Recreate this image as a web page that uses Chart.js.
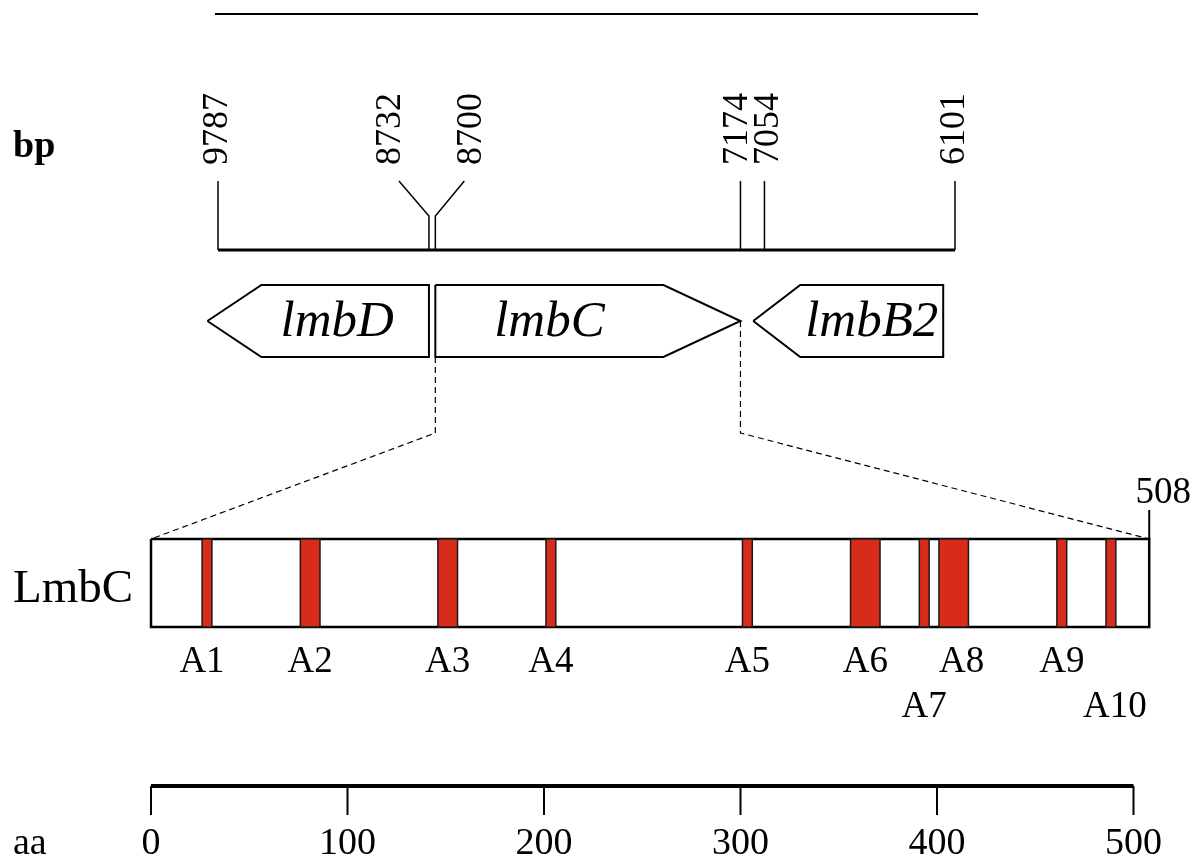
<!DOCTYPE html>
<html>
<head>
<meta charset="utf-8">
<title>LmbC</title>
<script src="https://cdn.jsdelivr.net/npm/chart.js@4.4.1/dist/chart.umd.min.js"></script>
<style>
  html, body { margin: 0; padding: 0; background: #fff; }
  #wrap { width: 1191px; height: 861px; }
</style>
</head>
<body>
<div id="wrap"><canvas id="map" width="1191" height="861"></canvas></div>
<script>
// --- data ---
const bpTicks = [9787, 8732, 8700, 7174, 7054, 6101];
const geneNames = ['lmbD', 'lmbC', 'lmbB2'];
const geneLeft = [9840, 8700, 7110];   // bp at left end
const geneRight = [8732, 7174, 6160];  // bp at right end
const geneStrand = [-1, 1, -1];        // -1 points left, 1 points right
const proteinLength = 508;
const domainNames = ['A1', 'A2', 'A3', 'A4', 'A5', 'A6', 'A7', 'A8', 'A9', 'A10'];
const domainStart = [26, 76, 146, 201, 301, 356, 391, 401, 461, 486];
const domainEnd = [31, 86, 156, 206, 306, 371, 396, 416, 466, 491];
const aaTicks = [0, 100, 200, 300, 400, 500];

// --- layout (pixel rows, since the y scale runs 0..861 top to bottom) ---
const W = 1191, H = 861;
const AA_LEFT = 151, AA_RIGHT = 1133.5;     // where 0 and 500 aa sit
const BP_LEFT = 218, BP_RIGHT = 955;        // where 9787 and 6101 bp sit
const ROW = {
  rule: 14, bpText: 165, tickTop: 181, kink: 216, bpAxis: 250,
  geneTop: 285, geneMid: 321, geneBot: 357, knee: 433,
  endText: 493, endTick: 510, boxTop: 539, boxBot: 627,
  label1: 662, label2: 707, aaAxis: 786, aaTickEnd: 815, aaText: 844
};
const headBp = { lmbD: 270, lmbC: 385, lmbB2: 235 };
const nameShiftPx = { lmbD: -8, lmbC: 0, lmbB2: 0 };
const kinkShiftPx = { 8732: -30, 8700: 29 };
const labelShiftPx = { 8732: -38, 8700: 36, 7174: -3, 7054: 4 };
const domainLabelShiftPx = { A1: -5, A8: 8, A10: 4 };
const lowerLabels = ['A7', 'A10'];
const RED = '#d92b1a';
const SERIF = '"Liberation Serif", "Times New Roman", serif';

// bp scale bounds so the bp rule lands between BP_LEFT and BP_RIGHT
const areaW = AA_RIGHT - AA_LEFT;
const pxPerBp = (BP_RIGHT - BP_LEFT) / (bpTicks[0] - bpTicks[bpTicks.length - 1]);
const bpMax = bpTicks[0] + (BP_LEFT - AA_LEFT) / pxPerBp;
const bpMin = bpMax - areaW / pxPerBp;

const line = (pts, extra) => Object.assign({
  data: pts, showLine: true, pointRadius: 0, pointHoverRadius: 0, clip: false,
  borderColor: '#000', borderWidth: 1.5, fill: false, tension: 0, order: 5
}, extra);

const datasets = [];

// bp rule with its ticks
datasets.push(line([{ x: bpTicks[0], y: ROW.bpAxis }, { x: bpTicks[bpTicks.length - 1], y: ROW.bpAxis }],
  { xAxisID: 'xbp', borderWidth: 3 }));
bpTicks.forEach(v => {
  let pts;
  if (kinkShiftPx[v] !== undefined) {
    const off = -kinkShiftPx[v] / pxPerBp; // reversed axis
    pts = [{ x: v, y: ROW.bpAxis }, { x: v, y: ROW.kink }, { x: v + off, y: ROW.tickTop }];
  } else {
    pts = [{ x: v, y: ROW.bpAxis }, { x: v, y: ROW.tickTop }];
  }
  datasets.push(line(pts, { xAxisID: 'xbp' }));
});

// gene arrows
geneNames.forEach((g, i) => {
  const L = geneLeft[i], R = geneRight[i], hd = headBp[g];
  let pts;
  if (geneStrand[i] < 0) {
    const s = L - hd;
    pts = [[L, ROW.geneMid], [s, ROW.geneTop], [R, ROW.geneTop], [R, ROW.geneBot], [s, ROW.geneBot], [L, ROW.geneMid]];
  } else {
    const s = R + hd;
    pts = [[L, ROW.geneTop], [s, ROW.geneTop], [R, ROW.geneMid], [s, ROW.geneBot], [L, ROW.geneBot], [L, ROW.geneTop]];
  }
  datasets.push(line(pts.map(p => ({ x: p[0], y: p[1] })), { xAxisID: 'xbp', borderWidth: 2 }));
});

// protein box, its end tick and the conserved motifs
datasets.push(line([
  { x: 0, y: ROW.boxTop }, { x: proteinLength, y: ROW.boxTop },
  { x: proteinLength, y: ROW.boxBot }, { x: 0, y: ROW.boxBot }, { x: 0, y: ROW.boxTop }
], { xAxisID: 'x', borderWidth: 2.5, order: 4 }));
datasets.push(line([{ x: proteinLength, y: ROW.boxTop }, { x: proteinLength, y: ROW.endTick }],
  { xAxisID: 'x', borderWidth: 2 }));
domainNames.forEach((d, i) => {
  const a = domainStart[i], b = domainEnd[i];
  datasets.push(line([
    { x: a, y: ROW.boxTop }, { x: b, y: ROW.boxTop }, { x: b, y: ROW.boxBot },
    { x: a, y: ROW.boxBot }, { x: a, y: ROW.boxTop }
  ], { xAxisID: 'x', fill: 'shape', backgroundColor: RED, borderColor: '#1a1a1a', borderWidth: 1.5, order: 1 }));
});

// aa scale bar
datasets.push(line([{ x: aaTicks[0], y: ROW.aaAxis }, { x: aaTicks[aaTicks.length - 1], y: ROW.aaAxis }],
  { xAxisID: 'x', borderWidth: 4 }));
aaTicks.forEach(v => {
  datasets.push(line([{ x: v, y: ROW.aaAxis }, { x: v, y: ROW.aaTickEnd }], { xAxisID: 'x', borderWidth: 2 }));
});

function txt(ctx, s, x, y, font, align, base, rot) {
  ctx.save();
  ctx.translate(x, y);
  if (rot) ctx.rotate(rot);
  ctx.font = font;
  ctx.fillStyle = '#000';
  ctx.textAlign = align;
  ctx.textBaseline = base;
  ctx.fillText(s, 0, 0);
  ctx.restore();
}

const mapText = {
  id: 'mapText',
  beforeDatasetsDraw(chart) {
    const ctx = chart.ctx, xa = chart.scales.x, xb = chart.scales.xbp;
    ctx.save();
    // header rule
    ctx.strokeStyle = '#000';
    ctx.lineWidth = 2;
    ctx.beginPath();
    ctx.moveTo(215, ROW.rule);
    ctx.lineTo(978, ROW.rule);
    ctx.stroke();
    // dashed lines from the lmbC gene down to the protein box
    ctx.lineWidth = 1.2;
    ctx.setLineDash([6, 4]);
    const gi = geneNames.indexOf('lmbC');
    const lx = xb.getPixelForValue(geneLeft[gi]);
    const rx = xb.getPixelForValue(geneRight[gi]);
    ctx.beginPath();
    ctx.moveTo(lx, ROW.geneBot);
    ctx.lineTo(lx, ROW.knee);
    ctx.lineTo(xa.getPixelForValue(0), ROW.boxTop);
    ctx.moveTo(rx, ROW.geneMid);
    ctx.lineTo(rx, ROW.knee);
    ctx.lineTo(xa.getPixelForValue(proteinLength), ROW.boxTop);
    ctx.stroke();
    ctx.restore();
  },
  afterDatasetsDraw(chart) {
    const ctx = chart.ctx, xa = chart.scales.x, xb = chart.scales.xbp;
    txt(ctx, 'bp', 13, 157, 'bold 38px ' + SERIF, 'left', 'alphabetic');
    bpTicks.forEach(v => {
      const x = xb.getPixelForValue(v) + (labelShiftPx[v] || 0);
      txt(ctx, String(v), x, ROW.bpText, '36px ' + SERIF, 'left', 'middle', -Math.PI / 2);
    });
    geneNames.forEach((g, i) => {
      const hd = headBp[g];
      const a = geneStrand[i] < 0 ? geneLeft[i] - hd : geneLeft[i];
      const b = geneStrand[i] < 0 ? geneRight[i] : geneRight[i] + hd;
      const cx = (xb.getPixelForValue(a) + xb.getPixelForValue(b)) / 2 + nameShiftPx[g];
      txt(ctx, g, cx, ROW.geneMid + 2, 'italic 51px ' + SERIF, 'center', 'middle');
    });
    txt(ctx, 'LmbC', 13, 590, '47px ' + SERIF, 'left', 'middle');
    txt(ctx, String(proteinLength), xa.getPixelForValue(proteinLength) + 14, ROW.endText, '37px ' + SERIF, 'center', 'middle');
    domainNames.forEach((d, i) => {
      const cx = xa.getPixelForValue((domainStart[i] + domainEnd[i]) / 2) + (domainLabelShiftPx[d] || 0);
      const y = lowerLabels.includes(d) ? ROW.label2 : ROW.label1;
      txt(ctx, d, cx, y, '37px ' + SERIF, 'center', 'middle');
    });
    aaTicks.forEach(v => {
      txt(ctx, String(v), xa.getPixelForValue(v), ROW.aaText, '38px ' + SERIF, 'center', 'middle');
    });
    txt(ctx, 'aa', 13, ROW.aaText, '38px ' + SERIF, 'left', 'middle');
  }
};

new Chart(document.getElementById('map'), {
  type: 'scatter',
  data: { datasets },
  options: {
    responsive: false,
    devicePixelRatio: 1,
    animation: false,
    layout: { padding: { left: AA_LEFT, right: W - AA_RIGHT, top: 0, bottom: 0 } },
    plugins: { legend: { display: false }, tooltip: { enabled: false } },
    events: [],
    scales: {
      x: { type: 'linear', min: aaTicks[0], max: aaTicks[aaTicks.length - 1], display: false },
      xbp: { type: 'linear', reverse: true, min: bpMin, max: bpMax, display: false },
      y: { type: 'linear', reverse: true, min: 0, max: H, display: false }
    }
  },
  plugins: [mapText]
});
</script>
</body>
</html>
